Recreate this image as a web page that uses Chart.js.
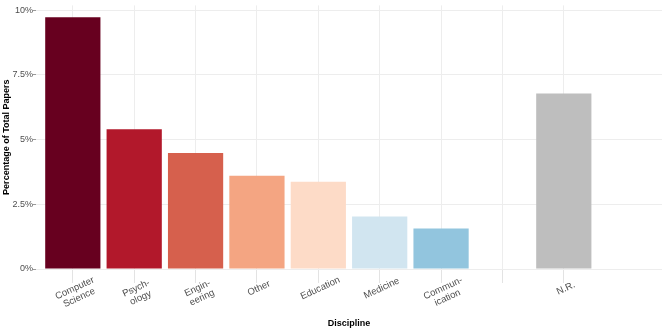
<!DOCTYPE html>
<html>
<head>
<meta charset="utf-8">
<script src="https://cdn.jsdelivr.net/npm/chart.js@4"></script>
<style>
  html, body { margin: 0; padding: 0; background: #fff; }
  canvas { display: block; }
</style>
</head>
<body>
<canvas id="disciplineChart" width="664" height="332"></canvas>
<script>
// categories (x tick labels, split into lines as drawn)
const categories = [
    ['Computer', 'Science'],
    ['Psych-', 'ology'],
    ['Engin-', 'eering'],
    ['Other'],
    ['Education'],
    ['Medicine'],
    ['Commun-', 'ication'],
    [''],
    ['N.R.']
];
// percentage of total papers
const percentages = [9.73, 5.40, 4.48, 3.60, 3.37, 2.03, 1.57, null, 6.78];
const barColors = ['#67001F', '#B2182B', '#D6604D', '#F4A582', '#FDDBC7', '#D1E5F0', '#92C5DE', '#4393C3', '#BEBEBE'];
const yTicks = [0, 2.5, 5, 7.5, 10];
const yTickLabels = ['0%', '2.5%', '5%', '7.5%', '10%'];

const fontFamily = '"Liberation Sans", Arial, Helvetica, sans-serif';

const xLabelPlugin = {
    id: 'xLabels',
    afterDraw(chart) {
        const ctx = chart.ctx;
        const xScale = chart.scales.x;
        ctx.save();
        ctx.font = '9.5px ' + fontFamily;
        ctx.fillStyle = '#4d4d4d';
        ctx.textAlign = 'center';
        ctx.textBaseline = 'top';
        categories.forEach((lines, i) => {
            const x = xScale.getPixelForValue(i + 1);
            ctx.save();
            ctx.translate(x, xScale.top + 15);
            ctx.rotate(-25 * Math.PI / 180);
            lines.forEach((line, j) => ctx.fillText(line, 0, j * 10.5));
            ctx.restore();
        });
        ctx.restore();
    }
};

const ctx = document.getElementById('disciplineChart').getContext('2d');
new Chart(ctx, {
    type: 'bar',
    data: {
        datasets: [{
            data: percentages.map((v, i) => ({ x: i + 1, y: v })),
            backgroundColor: barColors,
            borderWidth: 0,
            barPercentage: 0.9,
            categoryPercentage: 1
        }]
    },
    options: {
        responsive: false,
        animation: false,
        layout: { padding: { top: 3, right: 2, left: 0, bottom: 0 } },
        plugins: {
            legend: { display: false },
            tooltip: { enabled: false }
        },
        scales: {
            x: {
                type: 'linear',
                min: 0.4,
                max: 10.6,
                offset: false,
                border: { display: false },
                grid: { offset: false, color: '#ededed', tickLength: 14, tickColor: '#e3e3e3' },
                ticks: { display: false },
                afterBuildTicks: scale => {
                    scale.ticks = categories.map((c, i) => ({ value: i + 1 }));
                },
                afterFit: scale => { scale.height = 63; },
                title: {
                    display: true,
                    text: 'Discipline',
                    color: '#000',
                    font: { family: fontFamily, size: 9, weight: 'bold' },
                    padding: { top: 0, bottom: 3 }
                }
            },
            y: {
                min: 0,
                max: 10.19,
                border: { display: false },
                grid: { color: '#ededed', tickLength: 3, tickColor: '#9a9a9a' },
                afterBuildTicks: scale => {
                    scale.ticks = yTicks.map(v => ({ value: v }));
                },
                ticks: {
                    padding: 0,
                    color: '#4d4d4d',
                    font: { family: fontFamily, size: 9 },
                    callback: value => yTickLabels[yTicks.indexOf(value)]
                },
                afterFit: scale => { scale.width = 36; },
                title: {
                    display: true,
                    text: 'Percentage of Total Papers',
                    color: '#000',
                    font: { family: fontFamily, size: 9, weight: 'bold' },
                    padding: { top: 1, bottom: 0 }
                }
            }
        }
    },
    plugins: [xLabelPlugin]
});
</script>
</body>
</html>
